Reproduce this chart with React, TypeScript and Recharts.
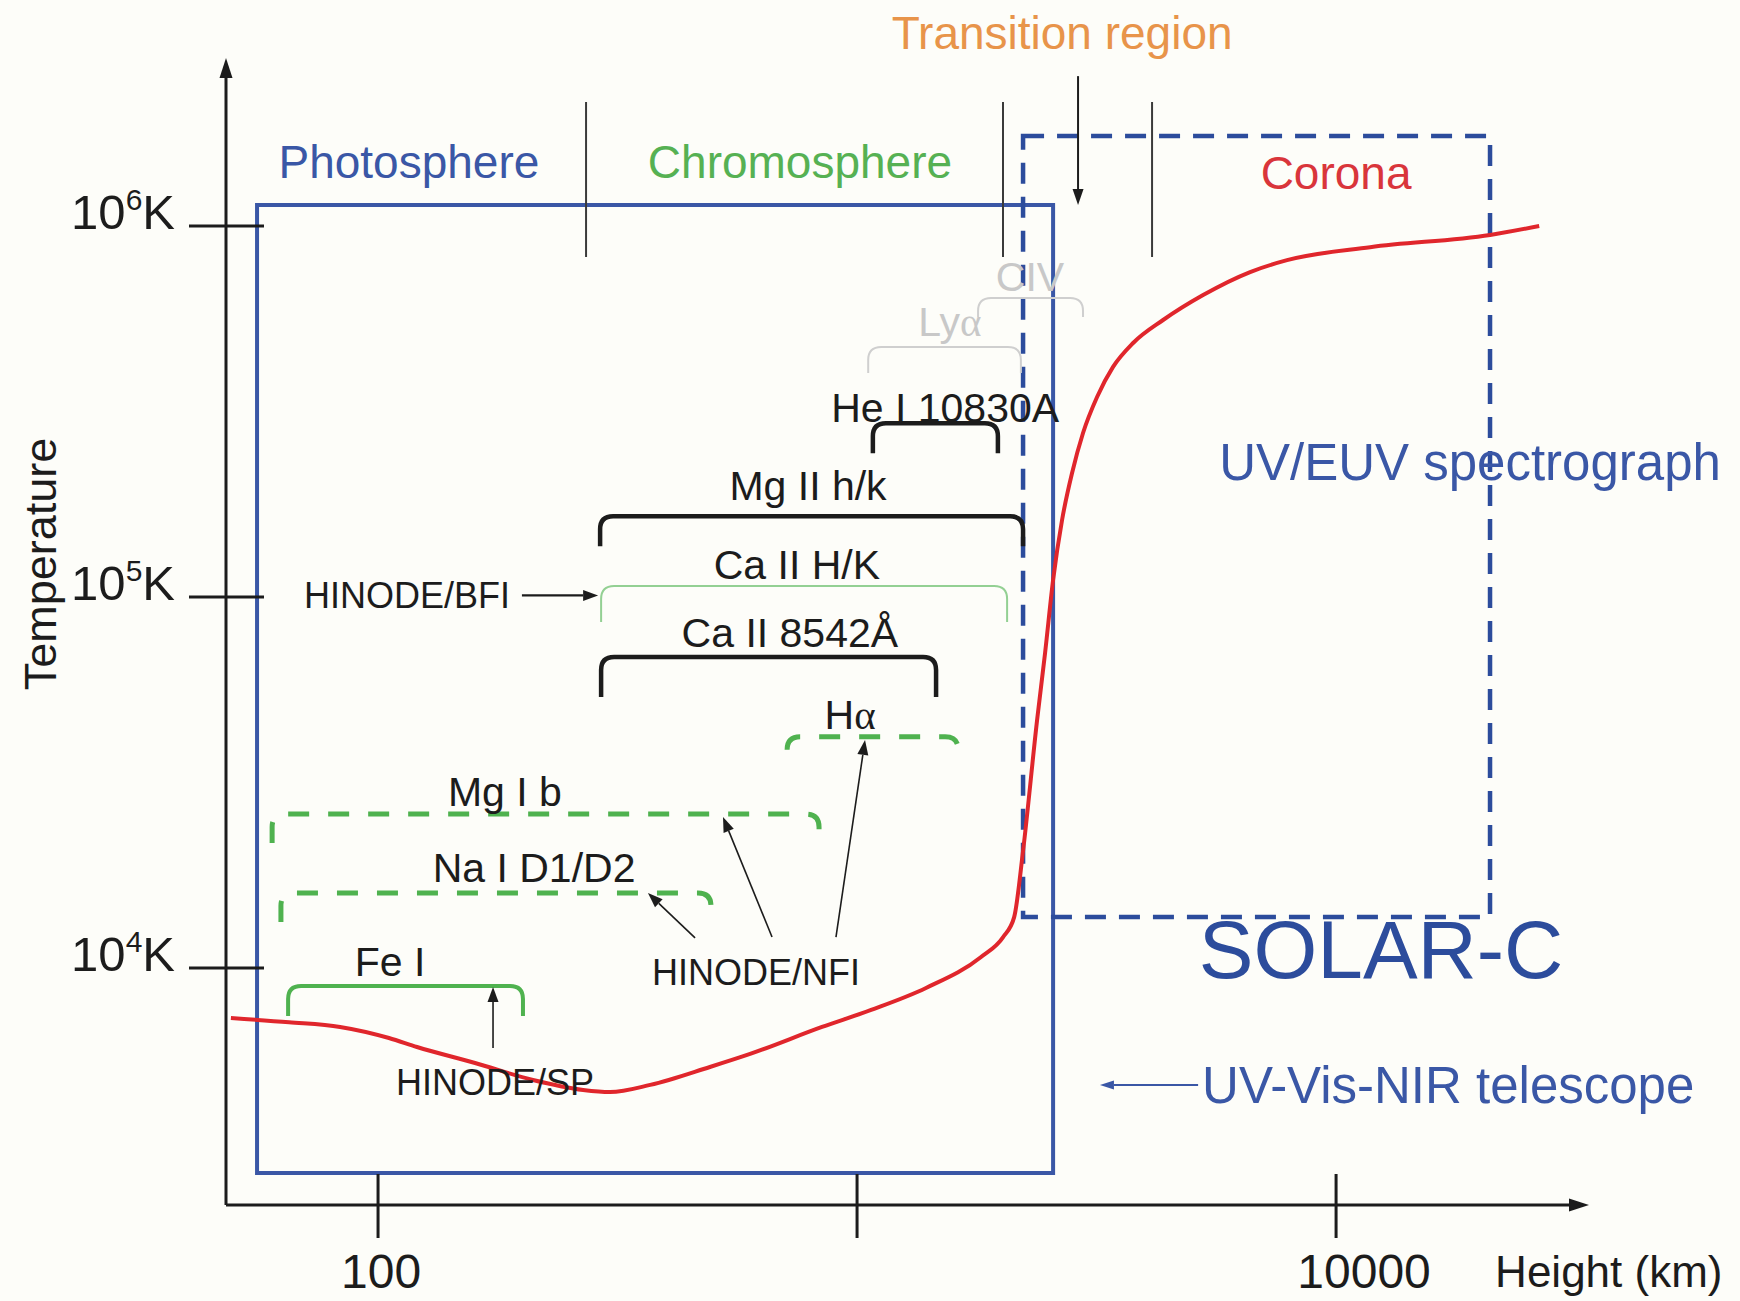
import React from 'react';
import { LineChart, Line, XAxis, YAxis, ReferenceLine, ReferenceArea, ReferenceDot } from 'recharts';

// ---- temperature profile of the solar atmosphere ----
const heightKm = [49.3, 65.2, 83.3, 105.4, 120.6, 159.4, 210.6, 268, 305, 370, 493, 598, 845, 1070, 1393, 1815, 2018, 2128, 2222, 2376, 2469, 2566, 2679, 2811, 2963, 3170, 3423, 3770, 4354, 5277, 6615, 7900, 11780, 20970, 26550];
const temperatureK = [7330, 7140, 6935, 6475, 6125, 5546, 4990, 4690, 4630, 4840, 5410, 5865, 6935, 7710, 8835, 10710, 12120, 13710, 20800, 46600, 70650, 111100, 161300, 215900, 276700, 346000, 417000, 483800, 558000, 651600, 751600, 809000, 877000, 946000, 1000000];

// ---- axes ----
const heightDomain = [48.15, 33730];
const tempDomain = [2297, 2837000];
const heightTicks = [100, 1000, 10000];
const heightTickLabels = ['100', '', '10000'];
const tempTicks = [10000, 100000, 1000000];
const tempTickExponents = ['4', '5', '6'];

// ---- spectral lines (formation-height brackets) ----
const lineNames = ['CIV', 'Lyα', 'He I 10830A', 'Mg II h/k', 'Ca II H/K', 'Ca II 8542Å', 'Hα', 'Mg I b', 'Na I D1/D2', 'Fe I'];
const lineStartKm = [1789, 1055, 1079, 290.8, 292.2, 292.2, 714.5, 60.1, 62.7, 64.9];
const lineEndKm = [2963, 2198, 1968, 2221, 2057, 1462, 1626, 833, 495.5, 200.7];
const lineTempK = [640000, 472000, 294000, 165000, 107000, 68900, 42000, 26000, 15930, 8945];
const lineLabelKm = [2296, 1563, 1527, 790, 749, 724, 967, 184, 211.7, 106];
const lineLabelTempK = [728800, 551000, 323000, 199000, 122000, 80000, 48100, 29800, 18600, 10380];

// ---- HINODE instruments ----
const instrumentNames = ['HINODE/BFI', 'HINODE/SP', 'HINODE/NFI'];
const instrumentLabelKm = [115, 175.5, 615];
const instrumentLabelTempK = [101000, 4900, 9750];
const pointerFromKm = [199.7, 173.8, 459, 664.5, 903.6];
const pointerFromTempK = [101000, 6087, 12050, 12120, 12120];
const pointerToKm = [288, 173.8, 366, 525, 1039];
const pointerToTempK = [101000, 8890, 15930, 25530, 41180];

// ---- atmospheric regions ----
const regionNames = ['Photosphere', 'Chromosphere', 'Corona', 'Transition region'];
const regionLabelKm = [116, 760, 10000, 2680];
const regionLabelTempK = [1488000, 1488000, 1390000, 3311000];
const regionBoundaryKm = [271.8, 2017, 4129];
const boundaryTempK = [825000, 2159000];
const transitionArrowKm = [2893, 2893];
const transitionArrowTempK = [2535000, 1139000];

// ---- SOLAR-C instruments ----
const visTelescopeKm = [55.9, 2566];
const visTelescopeTempK = [2802, 1139000];
const euvSpectrographKm = [2221, 20960];
const euvSpectrographTempK = [13725, 1748000];
const missionTexts = ['UV/EUV spectrograph', 'SOLAR-C', 'UV-Vis-NIR telescope'];
const missionTextKm = [19040, 12415, 5252];
const missionTextTempK = [231000, 11250, 4837];
const visPointerKm = [5152, 3214];
const visPointerTempK = [4837, 4837];

const axisTitles = ['Temperature', 'Height (km)'];
const axisTitleKm = [19.7, 21480];
const axisTitleTempK = [122700, 1516];

const curveData = heightKm.map((h, i) => ({ h, T: temperatureK[i] }));

// ---- styles ----
const FONT = '"Liberation Sans", Arial, sans-serif';
const BLACK = '#1c1c1c';
const BLUE = '#3a57a6';
const DARK_BLUE = '#2c4c9c';
const GREEN = '#4fb24f';
const RED = '#e0262c';

const lineStyles: Record<string, { color: string; width: number; dash?: string; drop: number; textColor: string }> = {
  'CIV': { color: '#cfcfcf', width: 2, drop: 19, textColor: '#c8c8c8' },
  'Lyα': { color: '#cfcfcf', width: 2, drop: 26, textColor: '#c8c8c8' },
  'He I 10830A': { color: BLACK, width: 4.5, drop: 30, textColor: BLACK },
  'Mg II h/k': { color: BLACK, width: 4.5, drop: 30, textColor: BLACK },
  'Ca II H/K': { color: '#93d093', width: 2, drop: 36, textColor: BLACK },
  'Ca II 8542Å': { color: BLACK, width: 4.5, drop: 40, textColor: BLACK },
  'Hα': { color: GREEN, width: 5, dash: '21 19', drop: 13, textColor: BLACK },
  'Mg I b': { color: GREEN, width: 5, dash: '21 19', drop: 29, textColor: BLACK },
  'Na I D1/D2': { color: GREEN, width: 5, dash: '21 19', drop: 29, textColor: BLACK },
  'Fe I': { color: GREEN, width: 4, drop: 30, textColor: BLACK },
};

const regionColors = [BLUE, '#56b153', '#d9353b', '#e8944a'];

const renderText = (text: string) => {
  const parts = text.split('α');
  if (parts.length === 1) return text;
  return (
    <>
      {parts[0]}
      <tspan fontFamily='"Liberation Serif", serif'>α</tspan>
      {parts[1]}
    </>
  );
};

const textShape = (text: string, size: number, color: string, anchor = 'middle', rotate = false) => (p: any) => (
  <text
    x={p.cx}
    y={p.cy}
    textAnchor={anchor}
    dominantBaseline="central"
    fontSize={size}
    fill={color}
    fontFamily={FONT}
    transform={rotate ? `rotate(-90 ${p.cx} ${p.cy})` : undefined}
  >
    {renderText(text)}
  </text>
);

const arrowShape = (color: string, width: number, headLen: number, headW: number) => (p: any) => {
  const { x1, y1, x2, y2 } = p;
  const dx = x2 - x1;
  const dy = y2 - y1;
  const len = Math.hypot(dx, dy) || 1;
  const ux = dx / len;
  const uy = dy / len;
  const bx = x2 - ux * headLen;
  const by = y2 - uy * headLen;
  const px = (-uy * headW) / 2;
  const py = (ux * headW) / 2;
  return (
    <g>
      <line x1={x1} y1={y1} x2={bx} y2={by} stroke={color} strokeWidth={width} />
      <polygon points={`${x2},${y2} ${bx + px},${by + py} ${bx - px},${by - py}`} fill={color} />
    </g>
  );
};

const bracketShape = (name: string) => (p: any) => {
  const s = lineStyles[name];
  const { x1, y1, x2 } = p;
  const r = Math.min(13, s.drop);
  const d = `M${x1},${y1 + s.drop} L${x1},${y1 + r} Q${x1},${y1} ${x1 + r},${y1} L${x2 - r},${y1} Q${x2},${y1} ${x2},${y1 + r} L${x2},${y1 + s.drop}`;
  return <path d={d} fill="none" stroke={s.color} strokeWidth={s.width} strokeDasharray={s.dash} />;
};

const plainLine = (color: string, width: number) => (p: any) => (
  <line x1={p.x1} y1={p.y1} x2={p.x2} y2={p.y2} stroke={color} strokeWidth={width} />
);

const XTick = (props: any) => {
  const { x, y, payload } = props;
  const idx = heightTicks.indexOf(payload.value);
  const label = idx >= 0 ? heightTickLabels[idx] : '';
  const dx = payload.value === 10000 ? 28 : 3;
  return (
    <g>
      <line x1={x} x2={x} y1={y - 31} y2={y + 33} stroke={BLACK} strokeWidth={3} />
      <text x={x + dx} y={y + 83} textAnchor="middle" fontSize={48} fill={BLACK} fontFamily={FONT}>
        {label}
      </text>
    </g>
  );
};

const YTick = (props: any) => {
  const { x, y, payload } = props;
  const idx = tempTicks.indexOf(payload.value);
  const exp = idx >= 0 ? tempTickExponents[idx] : '';
  return (
    <g>
      <line x1={x - 37} x2={x + 38} y1={y} y2={y} stroke={BLACK} strokeWidth={3} />
      <text x={x - 51} y={y + 3} textAnchor="end" fontSize={49} fill={BLACK} fontFamily={FONT}>
        10
        <tspan dy={-19} fontSize={30}>{exp}</tspan>
        <tspan dy={19}>K</tspan>
      </text>
    </g>
  );
};

export default function App() {
  return (
    <div style={{ position: 'absolute', left: 0, top: 0, width: 1740, height: 1301, background: '#fdfdf9' }}>
      <LineChart
        width={1740}
        height={1301}
        data={curveData}
        margin={{ top: 58, right: 151, bottom: 6, left: 26 }}
      >
        <XAxis
          type="number"
          dataKey="h"
          scale="log"
          domain={heightDomain}
          allowDataOverflow
          ticks={heightTicks}
          interval={0}
          axisLine={false}
          tickLine={false}
          tickSize={0}
          tickMargin={0}
          height={90}
          tick={(p: any) => <XTick {...p} />}
        />
        <YAxis
          type="number"
          dataKey="T"
          scale="log"
          domain={tempDomain}
          allowDataOverflow
          ticks={tempTicks}
          interval={0}
          axisLine={false}
          tickLine={false}
          tickSize={0}
          tickMargin={0}
          width={200}
          tick={(p: any) => <YTick {...p} />}
        />

        {/* SOLAR-C UV-Vis-NIR telescope coverage */}
        <ReferenceArea
          x1={visTelescopeKm[0]}
          x2={visTelescopeKm[1]}
          y1={visTelescopeTempK[0]}
          y2={visTelescopeTempK[1]}
          fill="none"
          fillOpacity={0}
          stroke={BLUE}
          strokeWidth={4}
          ifOverflow="visible"
        />

        {/* axes with arrows */}
        <ReferenceLine
          segment={[{ x: heightDomain[0], y: tempDomain[0] }, { x: heightDomain[0], y: tempDomain[1] }]}
          ifOverflow="visible"
          shape={arrowShape(BLACK, 3, 20, 13)}
        />
        <ReferenceLine
          segment={[{ x: heightDomain[0], y: tempDomain[0] }, { x: heightDomain[1], y: tempDomain[0] }]}
          ifOverflow="visible"
          shape={arrowShape(BLACK, 3, 20, 13)}
        />

        {/* region boundaries */}
        {regionBoundaryKm.map((h, i) => (
          <ReferenceLine
            key={`rb${i}`}
            segment={[{ x: h, y: boundaryTempK[0] }, { x: h, y: boundaryTempK[1] }]}
            ifOverflow="visible"
            shape={plainLine('#3a3a3a', 2)}
          />
        ))}
        <ReferenceLine
          segment={[{ x: transitionArrowKm[0], y: transitionArrowTempK[0] }, { x: transitionArrowKm[1], y: transitionArrowTempK[1] }]}
          ifOverflow="visible"
          shape={arrowShape(BLACK, 2, 16, 11)}
        />
        {regionNames.map((n, i) => (
          <ReferenceDot
            key={`rn${i}`}
            x={regionLabelKm[i]}
            y={regionLabelTempK[i]}
            r={0}
            ifOverflow="visible"
            shape={textShape(n, 46, regionColors[i])}
          />
        ))}

        {/* spectral line brackets */}
        {lineNames.map((n, i) => (
          <ReferenceLine
            key={`lb${i}`}
            segment={[{ x: lineStartKm[i], y: lineTempK[i] }, { x: lineEndKm[i], y: lineTempK[i] }]}
            ifOverflow="visible"
            shape={bracketShape(n)}
          />
        ))}
        {lineNames.map((n, i) => (
          <ReferenceDot
            key={`ll${i}`}
            x={lineLabelKm[i]}
            y={lineLabelTempK[i]}
            r={0}
            ifOverflow="visible"
            shape={textShape(n, 41, lineStyles[n].textColor)}
          />
        ))}

        {/* HINODE instruments */}
        {pointerFromKm.map((h, i) => (
          <ReferenceLine
            key={`pa${i}`}
            segment={[{ x: h, y: pointerFromTempK[i] }, { x: pointerToKm[i], y: pointerToTempK[i] }]}
            ifOverflow="visible"
            shape={arrowShape(BLACK, i === 0 ? 2.2 : 1.6, 15, 11)}
          />
        ))}
        {instrumentNames.map((n, i) => (
          <ReferenceDot
            key={`in${i}`}
            x={instrumentLabelKm[i]}
            y={instrumentLabelTempK[i]}
            r={0}
            ifOverflow="visible"
            shape={textShape(n, 36, BLACK)}
          />
        ))}

        {/* temperature profile */}
        <Line
          type="monotone"
          dataKey="T"
          stroke={RED}
          strokeWidth={4}
          dot={false}
          isAnimationActive={false}
        />

        {/* SOLAR-C UV/EUV spectrograph coverage */}
        <ReferenceArea
          x1={euvSpectrographKm[0]}
          x2={euvSpectrographKm[1]}
          y1={euvSpectrographTempK[0]}
          y2={euvSpectrographTempK[1]}
          fill="none"
          fillOpacity={0}
          stroke={DARK_BLUE}
          strokeWidth={4.5}
          strokeDasharray="21 13"
          ifOverflow="visible"
        />
        <ReferenceLine
          segment={[{ x: visPointerKm[0], y: visPointerTempK[0] }, { x: visPointerKm[1], y: visPointerTempK[1] }]}
          ifOverflow="visible"
          shape={arrowShape(BLUE, 2, 14, 9)}
        />
        {missionTexts.map((t, i) => (
          <ReferenceDot
            key={`mt${i}`}
            x={missionTextKm[i]}
            y={missionTextTempK[i]}
            r={0}
            ifOverflow="visible"
            shape={textShape(t, i === 1 ? 82 : 51, i === 1 ? DARK_BLUE : BLUE, i === 2 ? 'start' : 'middle')}
          />
        ))}

        {/* axis titles */}
        <ReferenceDot
          x={axisTitleKm[0]}
          y={axisTitleTempK[0]}
          r={0}
          ifOverflow="visible"
          shape={textShape(axisTitles[0], 45, BLACK, 'middle', true)}
        />
        <ReferenceDot
          x={axisTitleKm[1]}
          y={axisTitleTempK[1]}
          r={0}
          ifOverflow="visible"
          shape={textShape(axisTitles[1], 44, BLACK, 'start')}
        />
      </LineChart>
    </div>
  );
}
